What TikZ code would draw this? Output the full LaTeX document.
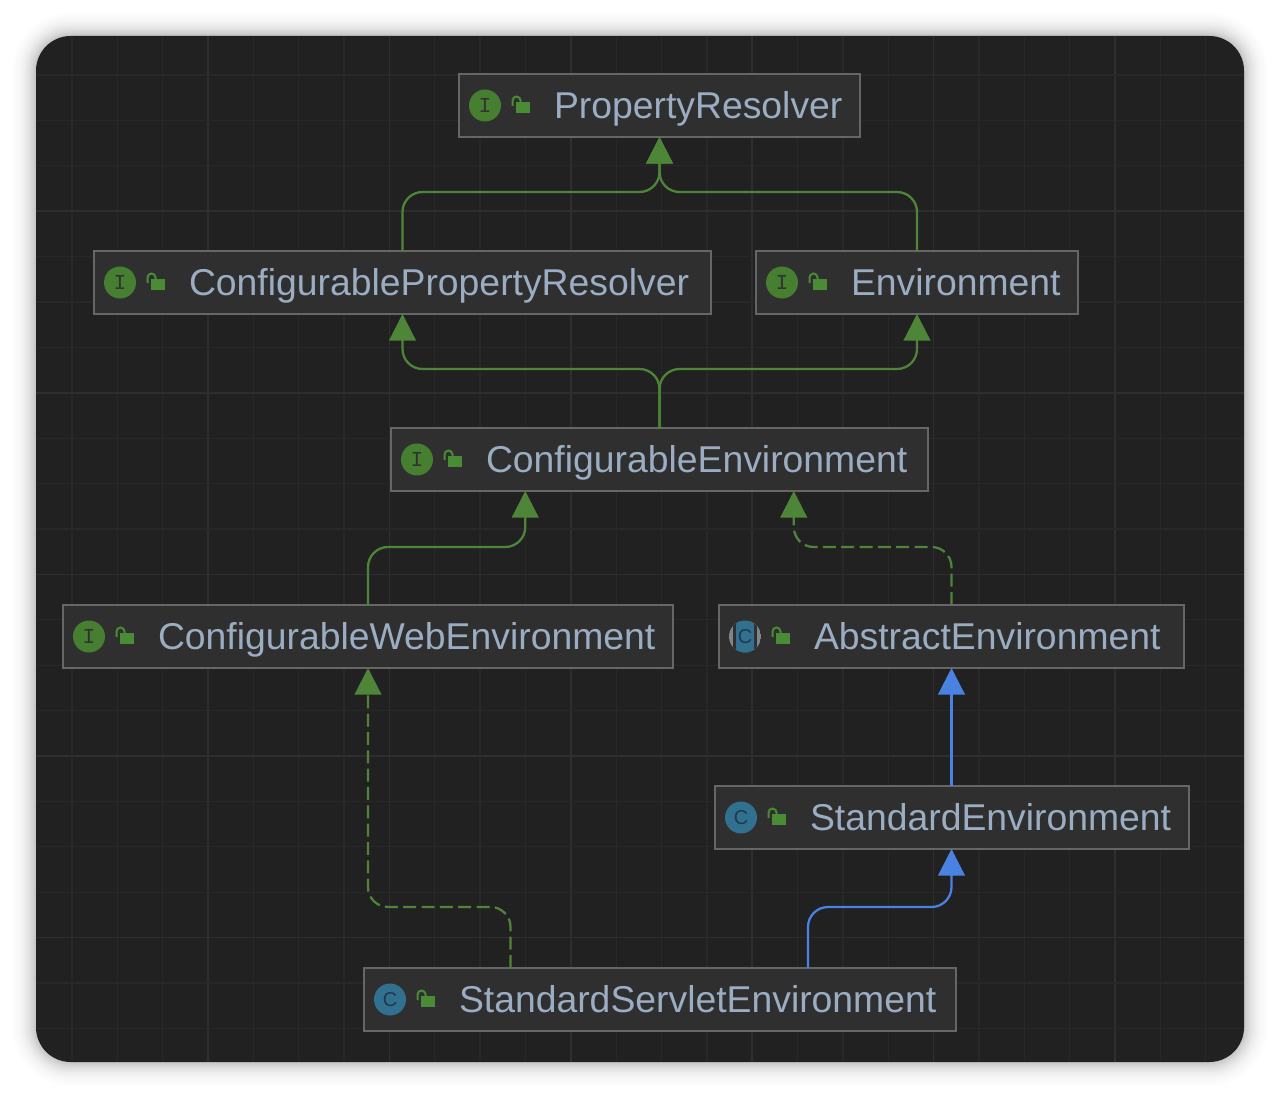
\documentclass[tikz,border=0pt]{standalone}
\usepackage{fontspec}
\setmainfont{Liberation Sans}
\newfontfamily\iconmono{Liberation Mono}
\usetikzlibrary{arrows.meta,calc}
\definecolor{panelc}{HTML}{212121}
\definecolor{gridc}{HTML}{282828}
\definecolor{gridm}{HTML}{2E2E2E}
\definecolor{boxc}{HTML}{2F2F2F}
\definecolor{edgec}{HTML}{666666}
\definecolor{textc}{HTML}{9BADC3}
\definecolor{implc}{HTML}{4E8539}
\definecolor{extc}{HTML}{4A82E3}
\definecolor{ifacec}{HTML}{467F30}
\definecolor{classc}{HTML}{31708F}
\definecolor{glyphc}{HTML}{1F3A4E}
\definecolor{lockc}{HTML}{4A8B35}
\definecolor{ringc}{HTML}{7C868D}

\begin{document}
\begin{tikzpicture}[x=0.75pt,y=-0.75pt,
  cbox/.style={draw=edgec,fill=boxc,line width=1.5pt,inner sep=0pt,outer sep=0pt,minimum height=47.25pt,
               minimum width=#1*0.75pt,text width=#1*0.75pt,text height=24pt,text depth=4.5pt,align=left,
               text=textc,font=\fontsize{28pt}{32pt}\selectfont},
  icon/.style={circle,inner sep=0pt,minimum size=24pt,text=glyphc},
  ifaceicon/.style={icon,fill=ifacec,text=black!80,font=\iconmono\fontsize{16pt}{16pt}\selectfont},
  classicon/.style={icon,fill=classc,font=\fontsize{15pt}{15pt}\selectfont},
  flow/.style={line width=1.7pt,rounded corners=15pt,-{Triangle[width=20pt,length=20pt]}},
  impl/.style={flow,implc},
  impld/.style={impl,dash pattern=on 9.75pt off 4pt},
  ext/.style={flow,extc}]

\useasboundingbox (0,0) rectangle (1280,1098);

% shadow and panel
\foreach \s in {1,...,34}{
  \pgfmathsetmacro\sop{0.02*(1-\s/35)*(1-\s/35)}
  \fill[black,opacity=\sop,rounded corners=26pt+\s*0.75pt] (36-\s,36-\s) rectangle (1244+\s,1062+\s);
}
\fill[panelc,rounded corners=26pt] (36,36) rectangle (1244,1062);

% grid
\foreach \k in {0,...,25}{
  \pgfmathsetmacro\gx{72+45.35*\k}
  \pgfmathtruncatemacro\m{mod(\k,4)==3}
  \ifnum\m=1 \draw[gridm,line width=1.2pt] (\gx,36) -- (\gx,1062);
  \else \draw[gridc,line width=1pt] (\gx,36) -- (\gx,1062); \fi
}
\foreach \k in {0,...,21}{
  \pgfmathsetmacro\gy{75+45.4*\k}
  \pgfmathtruncatemacro\m{mod(\k,4)==3}
  \ifnum\m=1 \draw[gridm,line width=1.2pt] (36,\gy) -- (1244,\gy);
  \else \draw[gridc,line width=1pt] (36,\gy) -- (1244,\gy); \fi
}

% classes
\node[cbox=401] (prop) at (659.5,105.5) {\hspace*{71.25pt}PropertyResolver};
\node[cbox=617] (crp) at (402.5,282.5) {\hspace*{71.25pt}ConfigurablePropertyResolver};
\node[cbox=322] (env) at (917,282.5) {\hspace*{71.25pt}Environment};
\node[cbox=537] (ce) at (659.5,459.5) {\hspace*{71.25pt}ConfigurableEnvironment};
\node[cbox=610] (web) at (368,636.5) {\hspace*{71.25pt}ConfigurableWebEnvironment};
\node[cbox=465] (abs) at (951.5,636.5) {\hspace*{71.25pt}AbstractEnvironment};
\node[cbox=474] (std) at (952,817.5) {\hspace*{71.25pt}StandardEnvironment};
\node[cbox=592] (ssv) at (660,999.5) {\hspace*{71.25pt}StandardServletEnvironment};

% icons
\foreach \b in {prop,crp,env,ce,web}{
  \node[ifaceicon] (\b-ic) at ($(\b.west)+(26,0)$) {I};
}
\foreach \b in {std,ssv}{
  \node[classicon] (\b-ic) at ($(\b.west)+(26,0)$) {C};
}
\coordinate (absc) at ($(abs.west)+(26,0)$);
\begin{scope}
\clip (absc) circle[radius=12pt];
\fill[ringc] ($(absc)+(-16,-16)$) rectangle ($(absc)+(16,16)$);
\fill[boxc] ($(absc)+(-12,-16)$) rectangle ($(absc)+(12,16)$);
\fill[classc,rounded corners=1.5pt] ($(absc)+(-9,-16)$) rectangle ($(absc)+(9,16)$);
\end{scope}
\node[icon,font=\fontsize{15pt}{15pt}\selectfont] (abs-ic) at (absc) {C};

% locks
\foreach \b in {prop,crp,env,ce,web,abs,std,ssv}{
  \fill[lockc] ($(\b.west)+(57,-3.5)$) rectangle ($(\b.west)+(70.5,7.5)$);
  \draw[lockc,line width=1.5pt] ($(\b.west)+(53.5,0.5)$) -- ($(\b.west)+(53.5,-5)$)
     arc[start angle=180,end angle=0,radius=3pt] -- ($(\b.west)+(61.5,-3)$);
}

% connectors
\coordinate (ceL) at ($(ce.south west)!.25!(ce.south east)$);
\coordinate (ceR) at ($(ce.south west)!.75!(ce.south east)$);
\coordinate (ssvL) at ($(ssv.north west)!.2475!(ssv.north east)$);
\coordinate (ssvR) at ($(ssv.north west)!.75!(ssv.north east)$);
\coordinate (j1) at (659.5,192);
\coordinate (j2) at (659.5,369);
\coordinate (j3) at (ceL |- 0,547);
\coordinate (j4) at (ceR |- 0,547);
\coordinate (j5) at (web.south |- 0,907);
\coordinate (j6) at (abs.south |- 0,907);

\draw[impl] (crp.north) |- (j1) -- (prop.south);
\draw[impl] (env.north) |- (j1) -- (prop.south);
\draw[impl] (ce.north) -- (j2) -| (crp.south);
\draw[impl] (ce.north) -- (j2) -| (env.south);
\draw[impl] (web.north) |- (j3) -- (ceL);
\draw[impld] (abs.north) |- (j4) -- (ceR);
\draw[ext] (abs.south |- std.north) -- (abs.south);
\draw[impld] (ssvL) |- (j5) -- (web.south);
\draw[ext] (ssvR) |- (j6) -- (abs.south |- std.south);
\end{tikzpicture}
\end{document}
